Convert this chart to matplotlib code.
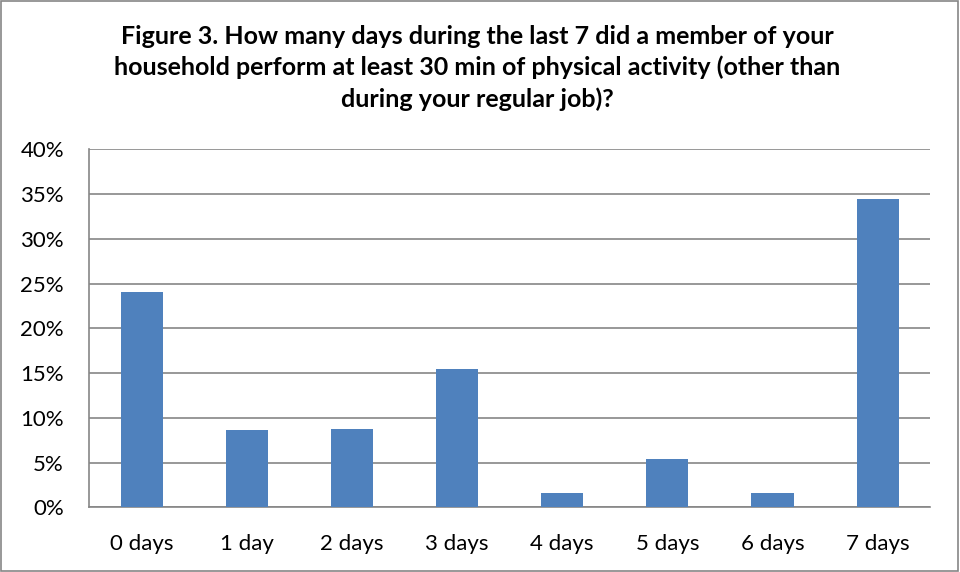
import matplotlib
matplotlib.use("Agg")
import matplotlib.pyplot as plt
from matplotlib.patches import Rectangle
from matplotlib.ticker import PercentFormatter

# Data
categories = ["0 days", "1 day", "2 days", "3 days", "4 days", "5 days", "6 days", "7 days"]
shares = [24.0, 8.6, 8.8, 15.4, 1.6, 5.4, 1.6, 34.5]
yticks = [0, 5, 10, 15, 20, 25, 30, 35, 40]
title = ("Figure 3. How many days during the last 7 did a member of your\n"
         "household perform at least 30 min of physical activity (other than\n"
         "during your regular job)?")

plt.rcParams["font.family"] = ["Lato", "DejaVu Sans"]

fig = plt.figure(figsize=(9.6, 5.72), dpi=100)
ax = fig.add_axes([0.0927, 0.1131, 0.969 - 0.0927, 0.739 - 0.1131])

x = range(len(categories))
ax.bar(x, shares, width=0.4, color="#4F81BD", zorder=3)

ax.set_xlim(-0.5, len(categories) - 0.5)
ax.set_ylim(0, 40)
ax.set_yticks(yticks)
ax.yaxis.set_major_formatter(PercentFormatter(decimals=0))
ax.set_xticks(list(x))
ax.set_xticklabels(categories)

ax.grid(axis="y", color="#868686", linewidth=1.2, zorder=0)
for side in ["top", "right"]:
    ax.spines[side].set_visible(False)
for side in ["left", "bottom"]:
    ax.spines[side].set_color("#868686")
    ax.spines[side].set_linewidth(1.2)
ax.tick_params(axis="both", length=0, labelsize=16, colors="black")
ax.tick_params(axis="y", pad=18)
ax.tick_params(axis="x", pad=19)

fig.text(0.497, 0.957, title, ha="center", va="top", fontsize=18,
         fontweight="bold", linespacing=1.42)

# outer chart border
fig.patches.append(Rectangle((0.001, 0.001), 0.997, 0.997, transform=fig.transFigure,
                             fill=False, edgecolor="#868686", linewidth=1.2))

fig.savefig("out.png", dpi=100)
